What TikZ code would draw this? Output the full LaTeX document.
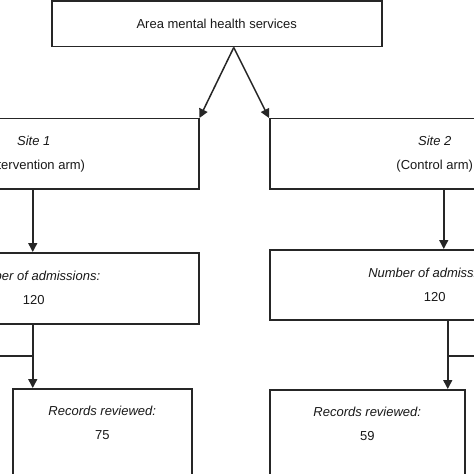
\documentclass[tikz,border=0pt]{standalone}
\usepackage{fontspec}
\setmainfont{Liberation Sans}
\usetikzlibrary{arrows.meta}
\begin{document}
\begin{tikzpicture}[x=1bp,y=-1bp,
  box/.style={draw=black!85, line width=1.5bp, rectangle, inner sep=0pt, anchor=north west, align=center, font=\fontsize{13bp}{24bp}\selectfont, text=black!90},
  txt/.style={inner sep=0pt, align=center, font=\fontsize{13bp}{24bp}\selectfont, text=black!90},
  arr/.style={draw=black!85, line width=1.5bp, -{Triangle[length=9bp,width=9bp]}},
  ln/.style={draw=black!85, line width=1.5bp}]
\clip (0,0) rectangle (474,474);
\fill[white] (0,0) rectangle (474,474);
% boxes
\node[box, minimum width=330bp, minimum height=45.5bp] (top) at (51,0.5) {Area mental health services};
\node[box, minimum width=330bp, minimum height=70bp] (site1) at (-132,118) {\textit{Site 1}\\(Intervention arm)};
\node[box, minimum width=330bp, minimum height=70bp] (site2) at (269,118) {\textit{Site 2}\\(Control arm)};
\node[box, minimum width=330bp, minimum height=71bp] (adm1) at (-132,252) {\textit{Number of admissions:}\\120};
\node[box, minimum width=330bp, minimum height=70bp] (adm2) at (269,249) {\textit{Number of admissions:}\\120};
\node[box, minimum width=179bp, minimum height=120bp] (rec1) at (12,388) {};
\node[box, minimum width=195bp, minimum height=120bp] (rec2) at (269,389) {};
\node[txt, anchor=north] (rec1t) at ([yshift=-18bp]rec1.north) {\textit{Records reviewed:}\\75};
\node[txt, anchor=north] (rec2t) at ([yshift=-18bp]rec2.north) {\textit{Records reviewed:}\\59};
% connectors
\draw[arr] ([xshift=17bp]top.south) -- (site1.north east);
\draw[arr] ([xshift=17bp]top.south) -- (site2.north west);
\draw[arr] ([xshift=-1bp]site1.south) -- ([xshift=-1bp]adm1.north);
\draw[arr] ([xshift=9bp]site2.south) -- ([xshift=9bp]adm2.north);
\coordinate (a1) at ([xshift=-1bp]adm1.south);
\coordinate (a2) at ([xshift=13bp]adm2.south);
\draw[arr] (a1) -- (a1 |- rec1.north);
\draw[arr] (a2) -- (a2 |- rec2.north);
\coordinate (ex1) at (-10,356);
\coordinate (ex2) at (484,356);
\draw[ln] (ex1) -- (ex1 -| a1);
\draw[ln] (ex2) -- (ex2 -| a2);
\end{tikzpicture}
\end{document}
